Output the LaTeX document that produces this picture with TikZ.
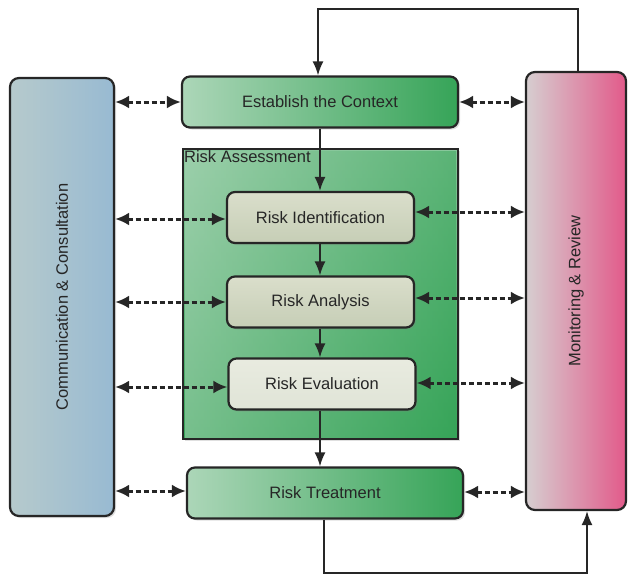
\documentclass[tikz,border=0pt]{standalone}
\usepackage{fontspec}
\setmainfont{Liberation Sans}
\usetikzlibrary{arrows.meta,shadows}
\definecolor{gdark}{HTML}{36A458}
\definecolor{glight}{HTML}{ACD6B8}
\definecolor{boxA}{HTML}{DADECB}
\definecolor{boxB}{HTML}{C6CEB6}
\definecolor{commA}{HTML}{98BAD2}
\definecolor{commB}{HTML}{B6CACC}
\definecolor{pinkA}{HTML}{E25A8A}
\definecolor{pinkB}{HTML}{D6CED0}
\definecolor{ink}{HTML}{262626}
\tikzset{
  txt/.style={font=\fontsize{16.5}{19}\selectfont, text=ink},
  gbox/.style={draw=ink, line width=2.2pt, rounded corners=8pt, minimum width=276pt, minimum height=51pt,
     left color=glight, right color=gdark, txt,
     drop shadow={opacity=0.25, shadow xshift=2pt, shadow yshift=-2pt}},
  ibox/.style={draw=ink, line width=2.2pt, rounded corners=8pt, minimum width=187pt, minimum height=51pt,
     top color=boxA, bottom color=boxB, txt,
     drop shadow={opacity=0.25, shadow xshift=2pt, shadow yshift=-2pt}},
  flow/.style={draw=ink, line width=1.7pt, -{Latex[length=14pt,width=11pt]}},
  dflow/.style={draw=ink, line width=3pt, dash pattern=on 5pt off 3pt, {Latex[length=14pt,width=13pt]}-{Latex[length=14pt,width=13pt]}},
}
\begin{document}
\begin{tikzpicture}[x=1pt,y=-1pt]
\useasboundingbox (0,0) rectangle (628,576);
% side boxes
\node[draw=ink, line width=2.2pt, rounded corners=9pt, minimum width=104pt, minimum height=438pt,
  left color=commB, right color=commA, drop shadow={opacity=0.25, shadow xshift=2pt, shadow yshift=-2pt}] (comm) at (62,297) {};
\node[rotate=90, txt] at (comm.center) {Communication \& Consultation};
\node[draw=ink, line width=2.2pt, rounded corners=9pt, minimum width=100pt, minimum height=438pt,
  left color=pinkB, right color=pinkA] (mon) at (576,291) {};
\node[rotate=90, txt] at (mon.center) {Monitoring \& Review};
% risk assessment
\node[draw=ink, line width=2.2pt, minimum width=275pt, minimum height=290pt,
  top color=glight!70!gdark, bottom color=gdark,
  drop shadow={opacity=0.25, shadow xshift=2pt, shadow yshift=-2pt}] (ra) at (320.5,294) {};
\shade[left color=glight, right color=gdark, opacity=0.55] (185,151) rectangle (456,437);
\node[anchor=north west, inner sep=2pt, txt] (ralab) at (ra.north west) {Risk Assessment};
% main boxes
\node[gbox] (ctx) at (320,102) {Establish the Context};
\node[ibox] (ident) at (320.5,217.5) {Risk Identification};
\node[ibox] (anal) at (320.5,302) {Risk Analysis};
\node[ibox, top color=boxA!60!white, bottom color=boxB!55!white] (eval) at (322,384) {Risk Evaluation};
\node[gbox] (treat) at (325,493) {Risk Treatment};
% vertical flow
\coordinate (vx) at (320,0);
\draw[flow] (ctx.south -| vx) -- (ident.north -| vx);
\draw[flow] (ident.south -| vx) -- (anal.north -| vx);
\draw[flow] (anal.south -| vx) -- (eval.north -| vx);
\draw[flow] (eval.south -| vx) -- (treat.north -| vx);
% loops
\coordinate (t1) at (578,9);
\coordinate (t2) at (318,9);
\draw[flow] (mon.north -| t1) -- (t1) -- (t2) -- (ctx.north -| t2);
\coordinate (b1) at (324,573);
\coordinate (b2) at (587,573);
\draw[flow] (treat.south -| b1) -- (b1) -- (b2) -- (mon.south -| b2);
% dashed links
\draw[dflow] (comm.east |- 0,102) -- (ctx.west);
\draw[dflow] (ctx.east) -- (mon.west |- ctx.east);
\draw[dflow] (comm.east |- 0,219) -- (ident.west |- 0,219);
\draw[dflow] (ident.east |- 0,212) -- (mon.west |- 0,212);
\draw[dflow] (comm.east |- 0,302) -- (anal.west |- 0,302);
\draw[dflow] (anal.east |- 0,298) -- (mon.west |- 0,298);
\draw[dflow] (comm.east |- 0,387) -- (eval.west |- 0,387);
\draw[dflow] (eval.east |- 0,383) -- (mon.west |- 0,383);
\draw[dflow] (comm.east |- 0,491) -- (treat.west |- 0,491);
\draw[dflow] (treat.east |- 0,492) -- (mon.west |- 0,492);
\end{tikzpicture}
\end{document}
